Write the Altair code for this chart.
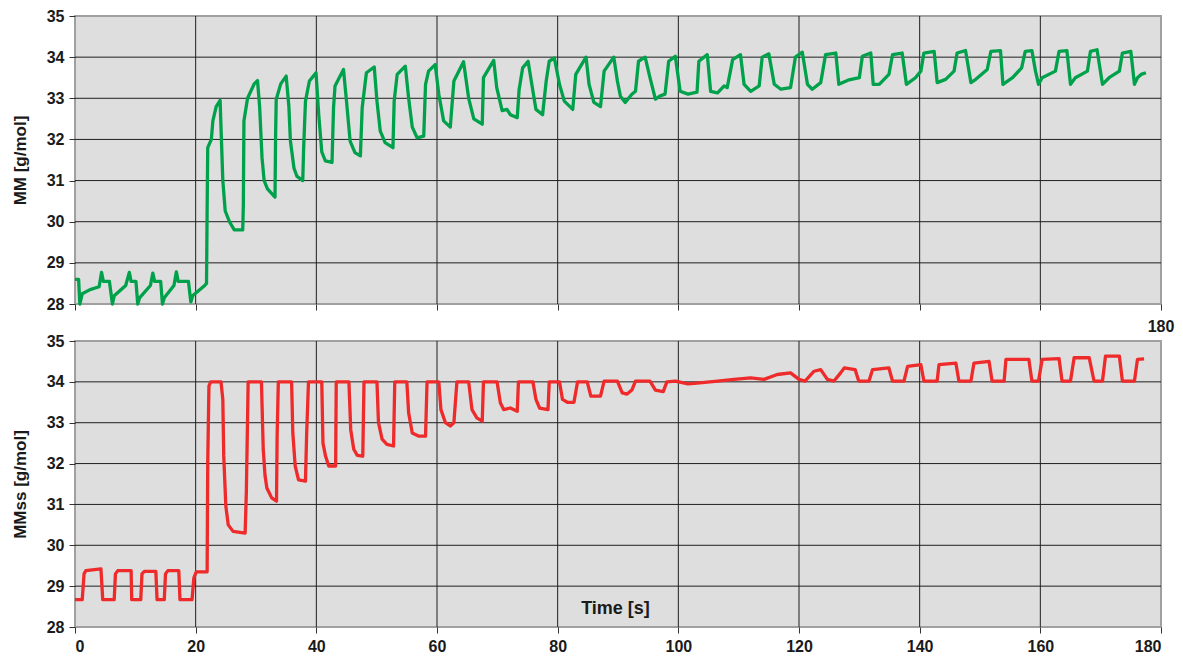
import altair as alt
import pandas as pd

# ---------------- data ----------------
mm_time = [0, 0.6, 0.8, 1.2, 2.5, 4.0, 4.4, 4.7, 5.7, 6.2,
           6.5, 8.4, 9.0, 9.3, 10.1, 10.4,
           10.7, 12.5, 12.9, 13.2, 14.2, 14.5,
           14.8, 16.4, 16.8, 17.1, 18.8, 19.2,
           19.5, 21.5, 21.8,
           21.9, 22.0, 22.6, 22.85, 23.4, 24.05,
           24.5, 24.9, 25.6, 26.4, 27.8,
           27.9, 28.0, 28.6, 29.7, 30.25,
           30.6, 31.0, 31.35, 31.9, 33.15,
           33.25, 33.35, 34.1, 35.0,
           35.45, 35.7, 36.3, 36.8, 37.75,
           37.9, 38.2, 38.85, 39.95,
           40.4, 40.9, 41.5, 42.6,
           42.85, 43.1, 44.5,
           45.0, 45.6, 46.4, 47.3,
           47.6, 48.3, 49.6,
           50.05, 50.6, 51.4, 52.7,
           52.9, 53.4, 54.75,
           55.3, 55.9, 56.7, 57.8,
           58.1, 58.6, 59.7,
           60.3, 61.1, 62.2,
           62.8, 64.4,
           65.25, 66.1, 67.5,
           67.7, 69.4,
           69.9, 70.8, 71.6, 72.15, 73.3,
           73.6, 74.2, 75.1,
           75.9, 76.4, 77.5,
           78.1, 78.6, 79.45,
           80.3, 81.1, 82.5,
           83.0, 84.7,
           85.2, 86.0, 87.1,
           87.7, 89.3,
           89.9, 90.4, 91.2, 92.3, 92.9,
           93.4, 94.5,
           95.3, 96.2, 97.0, 97.8,
           98.4, 99.5,
           100.3, 101.6, 103.1,
           103.4, 104.8,
           105.35, 106.5, 107.6, 108.1,
           109.0, 110.3,
           110.9, 112.0, 113.4,
           113.9, 115.0,
           115.9, 117.0, 118.6,
           119.4, 120.55,
           121.4, 122.2, 123.6,
           124.4, 126.1,
           126.6, 128.3, 130.0,
           130.5, 131.9,
           132.3, 133.3, 134.9,
           135.5, 137.1,
           137.8, 139.3, 140.2,
           140.7, 142.4,
           142.9, 144.3, 145.7,
           146.2, 147.6,
           148.5, 149.3, 151.2,
           151.8, 153.4,
           153.8, 155.4, 156.9,
           157.5, 158.6,
           159.2, 159.7, 160.3, 162.5,
           163.1, 164.4,
           165.0, 165.8, 167.8,
           168.3, 169.4,
           170.3, 171.4, 173.1,
           173.6, 175.0,
           175.6, 176.1, 176.7, 177.5]
mm_value = [28.6, 28.6, 28.0, 28.25, 28.35, 28.42, 28.77, 28.55, 28.55, 28.0,
            28.2, 28.45, 28.77, 28.55, 28.55, 28.0,
            28.15, 28.45, 28.75, 28.55, 28.55, 28.0,
            28.15, 28.45, 28.78, 28.55, 28.55, 28.05,
            28.2, 28.45, 28.5,
            30.3, 31.8, 32.0, 32.45, 32.8, 32.95,
            31.0, 30.26, 30.0, 29.8, 29.8,
            30.4, 32.45, 33.0, 33.35, 33.43,
            32.8, 31.55, 31.0, 30.8, 30.6,
            32.1, 32.97, 33.35, 33.54,
            32.8, 31.97, 31.3, 31.1, 31.0,
            31.8, 32.93, 33.42, 33.62,
            32.6, 31.7, 31.48, 31.44,
            32.77, 33.3, 33.7,
            32.93, 31.96, 31.68, 31.6,
            32.77, 33.62, 33.76,
            32.93, 32.2, 31.92, 31.8,
            32.93, 33.58, 33.78,
            33.0, 32.3, 32.04, 32.08,
            33.34, 33.66, 33.82,
            33.1, 32.45, 32.3,
            33.42, 33.89,
            33.0, 32.5, 32.37,
            33.5, 33.92,
            33.26, 32.7, 32.73, 32.6, 32.53,
            33.2, 33.74, 33.9,
            33.17, 32.73, 32.6,
            33.42, 33.9, 33.98,
            33.34, 32.93, 32.73,
            33.58, 34.0,
            33.34, 32.9, 32.8,
            33.66, 34.0,
            33.42, 33.05, 32.9, 33.1, 33.17,
            33.9, 34.0,
            33.5, 32.98, 33.06, 33.1,
            33.9, 34.02,
            33.17, 33.1, 33.15,
            33.9, 34.06,
            33.17, 33.13, 33.3, 33.26,
            33.94, 34.06,
            33.34, 33.17, 33.3,
            34.0, 34.08,
            33.34, 33.22, 33.26,
            34.0, 34.12,
            33.34, 33.22, 33.38,
            34.06, 34.1,
            33.34, 33.45, 33.5,
            34.02, 34.1,
            33.34, 33.34, 33.58,
            34.06, 34.1,
            33.34, 33.5, 33.66,
            34.1, 34.14,
            33.38, 33.46, 33.66,
            34.1, 34.16,
            33.38, 33.46, 33.7,
            34.14, 34.16,
            33.34, 33.5, 33.74,
            34.14, 34.16,
            33.66, 33.34, 33.5, 33.66,
            34.14, 34.16,
            33.34, 33.5, 33.66,
            34.14, 34.18,
            33.34, 33.5, 33.66,
            34.1, 34.14,
            33.34, 33.5, 33.58, 33.62]

mmss_time = [0, 1.2, 1.5, 1.8, 4.3, 4.6, 6.5, 6.7, 7.1, 9.3, 9.4, 10.9, 11.1, 11.5,
             13.4, 13.6, 14.8, 15.0, 15.4, 17.2, 17.4, 19.4, 19.7, 20.1, 21.9,
             22.0, 22.2, 22.5, 24.2,
             24.5, 24.65, 25.0, 25.4, 26.2, 28.2,
             28.4, 28.7, 30.9,
             31.2, 31.5, 31.8, 32.6, 33.4,
             33.5, 33.7, 35.9,
             36.1, 36.5, 37.05, 38.2,
             38.4, 38.7, 40.9,
             41.1, 41.5, 42.05, 43.2,
             43.3, 45.4,
             45.7, 46.2, 46.8, 47.7,
             47.9, 50.05,
             50.3, 50.9, 51.7, 52.8,
             53.0, 55.0,
             55.3, 55.9, 57.0, 58.1,
             58.35, 60.3,
             60.65, 61.4, 62.2, 62.8,
             63.3, 65.25,
             65.8, 66.6, 67.5,
             67.7, 69.95,
             70.5, 71.05, 72.15, 73.3,
             73.5, 75.9,
             76.4, 77.0, 78.4,
             78.6, 80.3,
             80.8, 81.6, 82.7,
             83.3, 84.9,
             85.5, 87.1,
             87.7, 89.9,
             90.7, 91.5, 92.3,
             92.9, 95.3,
             96.2, 97.5,
             98.1, 99.5, 101.6, 103.1, 106.5, 109.2, 112.0, 114.2, 116.4, 118.6,
             120.0, 121.0, 122.5, 123.6, 124.7, 125.8, 126.9, 127.5, 129.3,
             129.9, 131.6, 132.2, 134.9, 135.5, 137.4, 138.0, 140.2, 140.7, 142.9,
             143.2, 146.0, 146.5, 148.5, 149.0, 151.5, 152.0, 154.0, 154.3, 158.1,
             158.6, 159.7, 160.3, 163.1, 163.6, 165.0, 165.6, 168.1, 168.9, 170.3,
             170.8, 173.1, 173.6, 175.6, 176.1, 177.2]
mmss_value = [28.67, 28.67, 29.3, 29.38, 29.42, 28.67, 28.67, 29.3, 29.38, 29.38, 28.67, 28.67, 29.3, 29.36,
              29.36, 28.67, 28.67, 29.3, 29.38, 29.38, 28.67, 28.67, 29.2, 29.35, 29.35,
              32.0, 33.9, 34.0, 34.0,
              33.57, 32.2, 30.96, 30.5, 30.34, 30.3,
              31.3, 34.0, 34.0,
              32.35, 31.7, 31.4, 31.16, 31.08,
              32.67, 34.0, 34.0,
              32.75, 31.94, 31.6, 31.57,
              32.75, 34.0, 34.0,
              32.5, 32.2, 31.94, 31.94,
              34.0, 34.0,
              32.83, 32.35, 32.2, 32.18,
              34.0, 34.0,
              33.0, 32.6, 32.47, 32.43,
              34.0, 34.0,
              33.24, 32.75, 32.67, 32.67,
              34.0, 34.0,
              33.32, 33.0, 32.92, 33.0,
              34.0, 34.0,
              33.32, 33.12, 33.04,
              34.0, 34.0,
              33.49, 33.32, 33.36, 33.28,
              34.0, 34.0,
              33.57, 33.36, 33.32,
              34.0, 34.0,
              33.57, 33.5, 33.5,
              34.0, 34.0,
              33.65, 33.65,
              34.02, 34.02,
              33.73, 33.7, 33.8,
              34.02, 34.02,
              33.8, 33.76,
              34.0, 34.02, 33.95, 33.97, 34.02, 34.06, 34.1, 34.06, 34.18, 34.22,
              34.06, 34.02, 34.26, 34.3, 34.06, 34.02, 34.22, 34.34, 34.3,
              34.02, 34.02, 34.3, 34.34, 34.02, 34.02, 34.38, 34.42, 34.02, 34.02,
              34.42, 34.46, 34.02, 34.02, 34.46, 34.5, 34.02, 34.02, 34.55, 34.55,
              34.02, 34.02, 34.55, 34.57, 34.02, 34.02, 34.59, 34.59, 34.02, 34.02,
              34.63, 34.63, 34.02, 34.02, 34.55, 34.56]

x_ticks = [0, 20, 40, 60, 80, 100, 120, 140, 160, 180]
y_ticks = [28, 29, 30, 31, 32, 33, 34, 35]
grid_x = [20, 40, 60, 80, 100, 120, 140, 160]
grid_y = [29, 30, 31, 32, 33, 34]
corner_label = ["180"]

# ---------------- chart ----------------
FONT = "Liberation Sans"
W = 1086
GREEN = "#00A14B"
RED = "#EE2A2A"
GRID = "#1f1f1f"

xscale = alt.Scale(domain=[0, 180], nice=False, zero=False)
yscale = alt.Scale(domain=[28, 35], nice=False, zero=False)


def panel(times, values, color, ytitle, height, bottom):
    df = pd.DataFrame({"t": times, "v": values})
    if bottom:
        xaxis = alt.Axis(values=x_ticks, title="Time [s]", grid=False, domain=False,
                         titleX=540, titleY=-19, titleBaseline="middle",
                         titleFontSize=18, titleAlign="center")
    else:
        xaxis = alt.Axis(values=x_ticks, labels=False, title=None, grid=False, domain=False)
    yaxis = alt.Axis(values=y_ticks, title=ytitle, grid=False, domain=False, titlePadding=17)

    vgrid = alt.Chart(pd.DataFrame({"t": grid_x})).mark_rule(color=GRID, strokeWidth=1).encode(
        x=alt.X("t:Q", scale=xscale, axis=xaxis))
    hgrid = alt.Chart(pd.DataFrame({"v": grid_y})).mark_rule(color=GRID, strokeWidth=1).encode(
        y=alt.Y("v:Q", scale=yscale, axis=yaxis))
    line = alt.Chart(df).mark_line(color=color, strokeWidth=3.3, strokeJoin="round").encode(
        x=alt.X("t:Q", scale=xscale, axis=xaxis),
        y=alt.Y("v:Q", scale=yscale, axis=yaxis),
    )
    layers = [vgrid, hgrid, line]
    if bottom:
        lab = alt.Chart(pd.DataFrame({"lab": corner_label, "t": [180], "v": [35]})).mark_text(
            font=FONT, fontSize=16, fontWeight="bold", color="#1a1a1a",
            align="center", baseline="middle", dy=-14, clip=False
        ).encode(x=alt.X("t:Q", scale=xscale, axis=xaxis),
                 y=alt.Y("v:Q", scale=yscale, axis=yaxis), text="lab:N")
        layers.append(lab)
    return alt.layer(*layers).properties(width=W, height=height)


top = panel(mm_time, mm_value, GREEN, "MM [g/mol]", 288, False)
bottom = panel(mmss_time, mmss_value, RED, "MMss [g/mol]", 286, True)

chart = alt.vconcat(top, bottom, spacing=5).properties(
    padding={"left": 10, "top": 7, "right": 5, "bottom": 2},
    background="white",
).configure_view(
    fill="#DEDEDE", stroke="#A0A0A0", strokeWidth=2
).configure_axis(
    labelFont=FONT, labelFontSize=16, labelFontWeight="bold", labelColor="#1a1a1a",
    titleFont=FONT, titleFontSize=17, titleFontWeight="bold", titleColor="#1a1a1a",
    tickColor="#333333", tickSize=6, labelPadding=5,
)

chart.save("out.html", embed_options={"renderer": "svg", "actions": False})
